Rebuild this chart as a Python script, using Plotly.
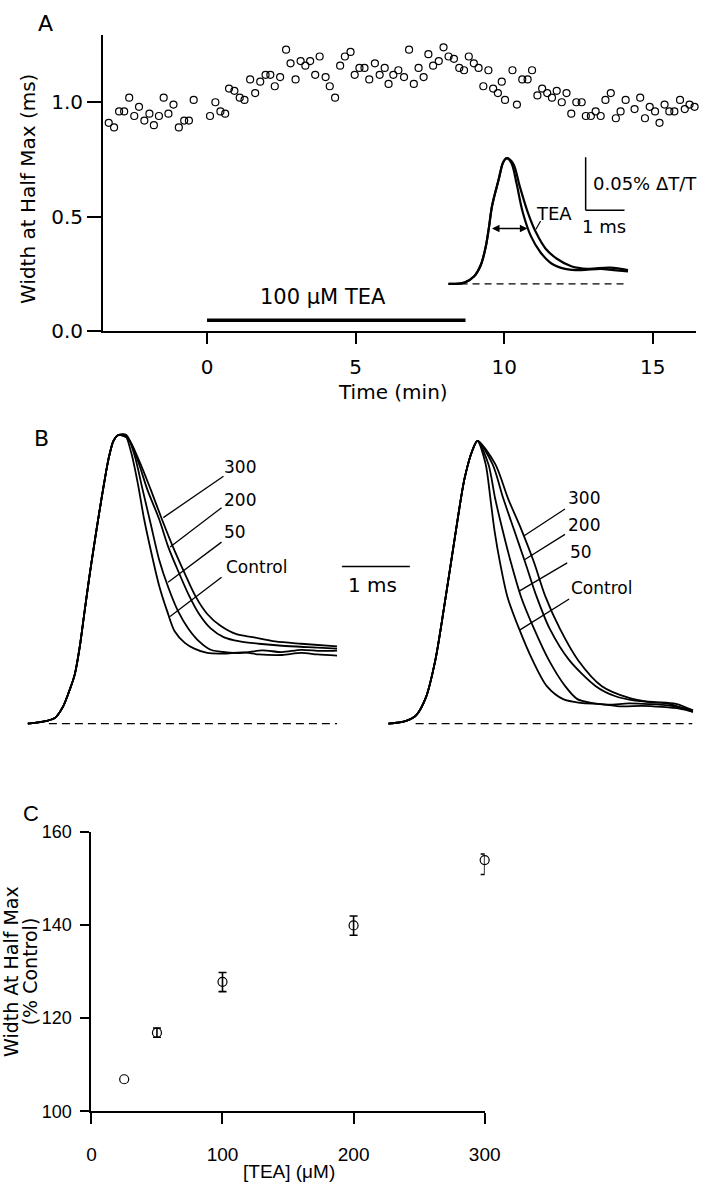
import plotly.graph_objects as go

# ---- Panel A: width at half max over time ----
time_min = [-3.31, -3.13, -2.96, -2.79, -2.62, -2.45, -2.29, -2.11, -1.94, -1.79,
            -1.62, -1.46, -1.30, -1.13, -0.95, -0.77, -0.61, -0.45, 0.10, 0.28,
            0.45, 0.61, 0.74, 0.92, 1.10, 1.26, 1.45, 1.62, 1.79, 1.97,
            2.13, 2.28, 2.46, 2.66, 2.81, 2.98, 3.15, 3.31, 3.47, 3.64,
            3.79, 3.99, 4.13, 4.31, 4.48, 4.64, 4.83, 4.97, 5.13, 5.30,
            5.46, 5.65, 5.81, 5.98, 6.11, 6.27, 6.44, 6.63, 6.80, 6.96,
            7.12, 7.29, 7.45, 7.61, 7.80, 7.96, 8.13, 8.31, 8.49, 8.65,
            8.81, 8.98, 9.14, 9.30, 9.47, 9.63, 9.79, 9.92, 10.03, 10.28,
            10.43, 10.61, 10.79, 10.94, 11.12, 11.28, 11.45, 11.61, 11.77, 11.94,
            12.10, 12.26, 12.43, 12.61, 12.75, 12.92, 13.08, 13.25, 13.41, 13.59,
            13.76, 13.92, 14.09, 14.39, 14.58, 14.74, 14.90, 15.08, 15.23, 15.40,
            15.56, 15.73, 15.92, 16.08, 16.24, 16.41]
width_ms = [0.91, 0.89, 0.96, 0.96, 1.02, 0.94, 0.98, 0.92, 0.95, 0.90,
            0.94, 1.02, 0.95, 0.99, 0.89, 0.92, 0.92, 1.01, 0.94, 1.00,
            0.96, 0.95, 1.06, 1.05, 1.02, 1.01, 1.10, 1.04, 1.09, 1.12,
            1.12, 1.07, 1.11, 1.23, 1.17, 1.10, 1.18, 1.16, 1.18, 1.12,
            1.20, 1.11, 1.07, 1.02, 1.16, 1.20, 1.22, 1.12, 1.15, 1.15,
            1.10, 1.17, 1.12, 1.15, 1.08, 1.12, 1.14, 1.11, 1.23, 1.08,
            1.15, 1.11, 1.21, 1.16, 1.18, 1.24, 1.20, 1.19, 1.15, 1.14,
            1.20, 1.17, 1.15, 1.07, 1.14, 1.06, 1.04, 1.09, 1.01, 1.14,
            0.99, 1.10, 1.10, 1.14, 1.03, 1.06, 1.04, 1.02, 1.05, 1.00,
            1.04, 0.95, 1.00, 1.00, 0.94, 0.94, 0.96, 0.94, 1.01, 1.04,
            0.93, 0.96, 1.01, 0.97, 1.02, 0.93, 0.98, 0.96, 0.91, 0.99,
            0.96, 0.96, 1.01, 0.97, 0.99, 0.98]
tea_bar_min = [0, 8.7]
tea_bar_level = [0.047, 0.047]

# inset traces (ms, normalised amplitude)
inset_rise_t = [0.17, 0.58, 0.83, 1.00, 1.13, 1.21, 1.29, 1.46, 1.58, 1.67]
inset_rise_a = [0.00, 0.01, 0.06, 0.15, 0.30, 0.45, 0.62, 0.83, 0.97, 1.00]
inset_ctrl_t = [1.79, 1.92, 2.08, 2.29, 2.54, 2.83, 3.17, 3.58, 4.08, 4.42, 4.79]
inset_ctrl_a = [0.96, 0.80, 0.57, 0.38, 0.25, 0.16, 0.12, 0.11, 0.12, 0.11, 0.10]
inset_tea_t = [1.83, 2.00, 2.21, 2.42, 2.67, 2.96, 3.33, 3.75, 4.33, 4.79]
inset_tea_a = [0.96, 0.78, 0.57, 0.41, 0.28, 0.20, 0.14, 0.12, 0.13, 0.11]

# ---- Panel B: superimposed transients (ms, normalised amplitude) ----
left_rise_t = [0.05, 0.33, 0.45, 0.57, 0.67, 0.74, 0.81, 0.88, 0.95, 1.02, 1.10, 1.17, 1.24, 1.31, 1.38]
left_rise_a = [0.00, 0.01, 0.02, 0.06, 0.12, 0.17, 0.26, 0.38, 0.50, 0.61, 0.73, 0.83, 0.92, 0.98, 1.00]
left_decay = {
    "Control": ([1.48, 1.57, 1.67, 1.76, 1.86, 1.98, 2.10, 2.21, 2.36, 2.50, 2.69, 2.93, 3.21, 3.45, 3.79, 4.07, 4.31, 4.60],
                [1.00, 0.94, 0.83, 0.71, 0.60, 0.48, 0.39, 0.32, 0.28, 0.26, 0.245, 0.243, 0.247, 0.240, 0.238, 0.245, 0.240, 0.236]),
    "50": ([1.50, 1.62, 1.74, 1.86, 1.98, 2.12, 2.26, 2.41, 2.57, 2.74, 2.98, 3.21, 3.50, 3.79, 4.07, 4.36, 4.60],
           [1.00, 0.93, 0.81, 0.69, 0.57, 0.47, 0.39, 0.33, 0.285, 0.256, 0.247, 0.245, 0.254, 0.248, 0.256, 0.252, 0.253]),
    "200": ([1.52, 1.67, 1.81, 1.98, 2.12, 2.26, 2.41, 2.57, 2.74, 2.93, 3.17, 3.45, 3.79, 4.17, 4.60],
            [0.99, 0.91, 0.81, 0.71, 0.61, 0.53, 0.45, 0.38, 0.33, 0.30, 0.285, 0.277, 0.27, 0.265, 0.26]),
    "300": ([1.52, 1.69, 1.86, 2.02, 2.19, 2.36, 2.52, 2.69, 2.88, 3.12, 3.36, 3.69, 4.07, 4.60],
            [0.99, 0.91, 0.81, 0.71, 0.61, 0.52, 0.44, 0.38, 0.34, 0.31, 0.30, 0.285, 0.277, 0.268]),
}
right_rise_t = [0.07, 0.33, 0.48, 0.62, 0.76, 0.90, 1.05, 1.19, 1.31, 1.38]
right_rise_a = [0.00, 0.01, 0.03, 0.09, 0.22, 0.42, 0.65, 0.85, 0.95, 0.98]
right_decay = {
    "Control": ([1.50, 1.57, 1.63, 1.71, 1.82, 1.99, 2.19, 2.40, 2.64, 2.90, 3.20, 3.50, 3.80, 4.10, 4.35, 4.55],
                [0.90, 0.78, 0.67, 0.56, 0.44, 0.33, 0.22, 0.13, 0.085, 0.072, 0.068, 0.060, 0.062, 0.058, 0.052, 0.041]),
    "50": ([1.54, 1.64, 1.75, 1.87, 2.02, 2.21, 2.43, 2.67, 2.85, 3.05, 3.30, 3.60, 3.90, 4.20, 4.55],
           [0.90, 0.78, 0.67, 0.56, 0.44, 0.33, 0.22, 0.13, 0.085, 0.072, 0.066, 0.070, 0.068, 0.063, 0.046]),
    "200": ([1.60, 1.76, 1.92, 2.08, 2.25, 2.44, 2.73, 3.12, 3.41, 3.70, 4.00, 4.30, 4.55],
            [0.90, 0.78, 0.67, 0.56, 0.44, 0.33, 0.22, 0.13, 0.095, 0.08, 0.075, 0.069, 0.046]),
    "300": ([1.64, 1.83, 2.03, 2.21, 2.38, 2.59, 2.86, 3.21, 3.60, 3.90, 4.20, 4.55],
            [0.90, 0.78, 0.67, 0.56, 0.44, 0.33, 0.22, 0.13, 0.09, 0.075, 0.069, 0.041]),
}

# ---- Panel C: dose response ----
tea_uM = [25, 50, 100, 200, 300]
width_pct = [106.9, 116.9, 127.8, 139.9, 153.9]
err_up = [0, 1.0, 2.0, 2.0, 1.3]
err_down = [0, 1.0, 2.1, 2.1, 3.1]

W, H = 724, 1200
FONT = "DejaVu Sans"
NARROW = "Liberation Sans"


def px(x):
    return x / W


def py(y):
    return 1 - y / H


fig = go.Figure()

# A scatter + drug bar
fig.add_trace(go.Scatter(x=time_min, y=width_ms, mode="markers", cliponaxis=False,
                         marker=dict(symbol="circle-open", size=7, color="black", line=dict(width=1.2))))
fig.add_trace(go.Scatter(x=tea_bar_min, y=tea_bar_level, mode="lines", line=dict(color="black", width=3.5)))

# inset
fig.add_trace(go.Scatter(x=inset_rise_t + inset_ctrl_t, y=inset_rise_a + inset_ctrl_a, mode="lines",
                         line=dict(color="black", width=2.2, shape="spline"), xaxis="x2", yaxis="y2"))
fig.add_trace(go.Scatter(x=inset_rise_t + inset_tea_t, y=inset_rise_a + inset_tea_a, mode="lines",
                         line=dict(color="black", width=2.2, shape="spline"), xaxis="x2", yaxis="y2"))
fig.add_trace(go.Scatter(x=[0.17, 4.75], y=[0, 0], mode="lines",
                         line=dict(color="black", width=1.3, dash="7px,5px"), xaxis="x2", yaxis="y2"))

# B traces
for rt, ra, decay, xa, ya, base in [(left_rise_t, left_rise_a, left_decay, "x3", "y3", [0.36, 4.6]),
                                    (right_rise_t, right_rise_a, right_decay, "x4", "y4", [0.47, 4.54])]:
    for name, (dt, da) in decay.items():
        fig.add_trace(go.Scatter(x=rt + dt, y=ra + da, mode="lines", cliponaxis=False,
                                 line=dict(color="black", width=1.8, shape="spline", smoothing=0.8),
                                 xaxis=xa, yaxis=ya))
    fig.add_trace(go.Scatter(x=base, y=[0, 0], mode="lines",
                             line=dict(color="black", width=1.2, dash="8px,5px"), xaxis=xa, yaxis=ya))

# C: first point has no visible error bar
c_marker = dict(symbol="circle-open", size=9, color="black", line=dict(width=1.2))
fig.add_trace(go.Scatter(x=tea_uM[:1], y=width_pct[:1], mode="markers", cliponaxis=False,
                         marker=c_marker, xaxis="x5", yaxis="y5"))
fig.add_trace(go.Scatter(x=tea_uM[1:], y=width_pct[1:], mode="markers", cliponaxis=False,
                         marker=c_marker,
                         error_y=dict(type="data", symmetric=False, array=err_up[1:], arrayminus=err_down[1:],
                                      color="black", thickness=1.6, width=4),
                         xaxis="x5", yaxis="y5"))

hidden = dict(visible=False, showgrid=False, zeroline=False)
axis_style = dict(showline=True, linecolor="black", linewidth=2, ticks="outside", tickwidth=2,
                  tickcolor="black", showgrid=False, zeroline=False)

fig.update_layout(
    width=W, height=H, margin=dict(l=0, r=0, t=0, b=0), showlegend=False,
    paper_bgcolor="white", plot_bgcolor="white",
    xaxis=dict(domain=[px(101), px(712)], range=[-3.5, 16.47], anchor="y", tickvals=[0, 5, 10, 15],
               ticklen=11, ticklabelstandoff=6, tickfont=dict(family=FONT, size=20, color="black"), **axis_style),
    yaxis=dict(domain=[py(327), py(25)], range=[0, 1.296], anchor="x", tickvals=[0, 0.5, 1.0],
               ticktext=["0.0", "0.5", "1.0"], ticklen=14, tickfont=dict(family=FONT, size=20, color="black"),
               **axis_style),
    xaxis2=dict(domain=[px(450), px(650)], range=[0, 5], anchor="y2", **hidden),
    yaxis2=dict(domain=[py(290), py(140)], range=[-0.0859, 1.0859], anchor="x2", **hidden),
    xaxis3=dict(domain=[px(20), px(345)], range=[0, 4.643], anchor="y3", **hidden),
    yaxis3=dict(domain=[py(740), py(420)], range=[-0.0442, 1.0442], anchor="x3", **hidden),
    xaxis4=dict(domain=[px(390), px(712)], range=[0, 4.6], anchor="y4", **hidden),
    yaxis4=dict(domain=[py(740), py(420)], range=[-0.0442, 1.0442], anchor="x4", **hidden),
    xaxis5=dict(domain=[px(89), px(494)], range=[0, 300], anchor="y5", tickvals=[0, 100, 200, 300],
                ticklen=11, ticklabelstandoff=14, tickfont=dict(family=NARROW, size=19, color="black"),
                **axis_style),
    yaxis5=dict(domain=[py(1122), py(837)], range=[100, 160], anchor="x5", tickvals=[100, 120, 140, 160],
                ticklen=9, ticklabelstandoff=5, tickfont=dict(family=NARROW, size=18, color="black"),
                **axis_style),
)

ann = []


def label(text, x, y, size=20, family=FONT, xref="paper", yref="paper", xanchor="center", angle=0):
    if xref == "paper":
        x, y = px(x), py(y)
    ann.append(dict(text=text, x=x, y=y, xref=xref, yref=yref, xanchor=xanchor, yanchor="middle",
                    showarrow=False, textangle=angle, font=dict(family=family, size=size, color="black")))


# panel letters and titles
label("A", 42, 14, 22)
label("B", 38, 437, 22)
label("C", 27, 818, 22, NARROW)
label("Width at Half Max (ms)", 23, 182, 20, angle=-90)
label("Time (min)", 400, 389, 20)
label("100 μM TEA", 328, 292, 21)
label("Width At Half Max", 6, 979, 19, angle=-90)
label("(% Control)", 26, 979, 19, angle=-90)
label("[TEA] (μM)", 292, 1183, 19, NARROW)

# inset labels
label("TEA", 2.875, 0.5625, 18, xref="x2", yref="y2")
label("0.05% ΔT/T", 3.85, 0.80, 18, xref="x2", yref="y2", xanchor="left")
label("1 ms", 4.17, 0.46, 18, xref="x2", yref="y2")
ann.append(dict(x=2.2, y=0.44, ax=1.25, ay=0.44, xref="x2", yref="y2", axref="x2", ayref="y2", text="",
                showarrow=True, arrowhead=2, arrowside="end+start", arrowsize=1, arrowwidth=1.5,
                arrowcolor="black"))

# B labels
left_labels = {"300": (2.90, 0.891), "200": (2.90, 0.776), "50": (2.90, 0.663), "Control": (2.93, 0.544)}
right_labels = {"300": (2.68, 0.781), "200": (2.68, 0.690), "50": (2.71, 0.596), "Control": (2.73, 0.469)}
for name, (x, y) in left_labels.items():
    label(name, x, y, 17, xref="x3", yref="y3", xanchor="left")
for name, (x, y) in right_labels.items():
    label(name, x, y, 17, xref="x4", yref="y4", xanchor="left")
label("1 ms", 378, 586, 20)

shapes = []
left_ptr = [((2.929, 0.857), (2.043, 0.714)), ((2.9, 0.748), (2.143, 0.612)),
            ((2.9, 0.629), (2.114, 0.490)), ((2.9, 0.507), (2.143, 0.371))]
right_ptr = [((2.667, 0.744), (2.061, 0.650)), ((2.667, 0.656), (2.071, 0.568)),
             ((2.7, 0.557), (2.0, 0.460)), ((2.729, 0.432), (2.0, 0.324))]
for ptrs, xr, yr in [(left_ptr, "x3", "y3"), (right_ptr, "x4", "y4")]:
    for (x0, y0), (x1, y1) in ptrs:
        shapes.append(dict(type="line", xref=xr, yref=yr, x0=x0, y0=y0, x1=x1, y1=y1,
                           line=dict(color="black", width=1.3)))
# inset pointer and scale bars
shapes.append(dict(type="line", xref="x2", yref="y2", x0=2.54, y0=0.50, x1=2.42, y1=0.435,
                   line=dict(color="black", width=1.2)))
shapes.append(dict(type="line", xref="x2", yref="y2", x0=3.7, y0=1.008, x1=3.7, y1=0.586,
                   line=dict(color="black", width=1.5)))
shapes.append(dict(type="line", xref="x2", yref="y2", x0=3.7, y0=0.586, x1=4.7, y1=0.586,
                   line=dict(color="black", width=1.5)))
shapes.append(dict(type="line", xref="paper", yref="paper", x0=px(347), y0=py(567), x1=px(417), y1=py(567),
                   line=dict(color="black", width=1.5)))

fig.update_layout(annotations=ann, shapes=shapes)

# drop the browser's default page margin so the figure sits at the window origin
fig.write_html("out.html", config={"displayModeBar": False},
               post_script="document.body.style.margin='0px';")
